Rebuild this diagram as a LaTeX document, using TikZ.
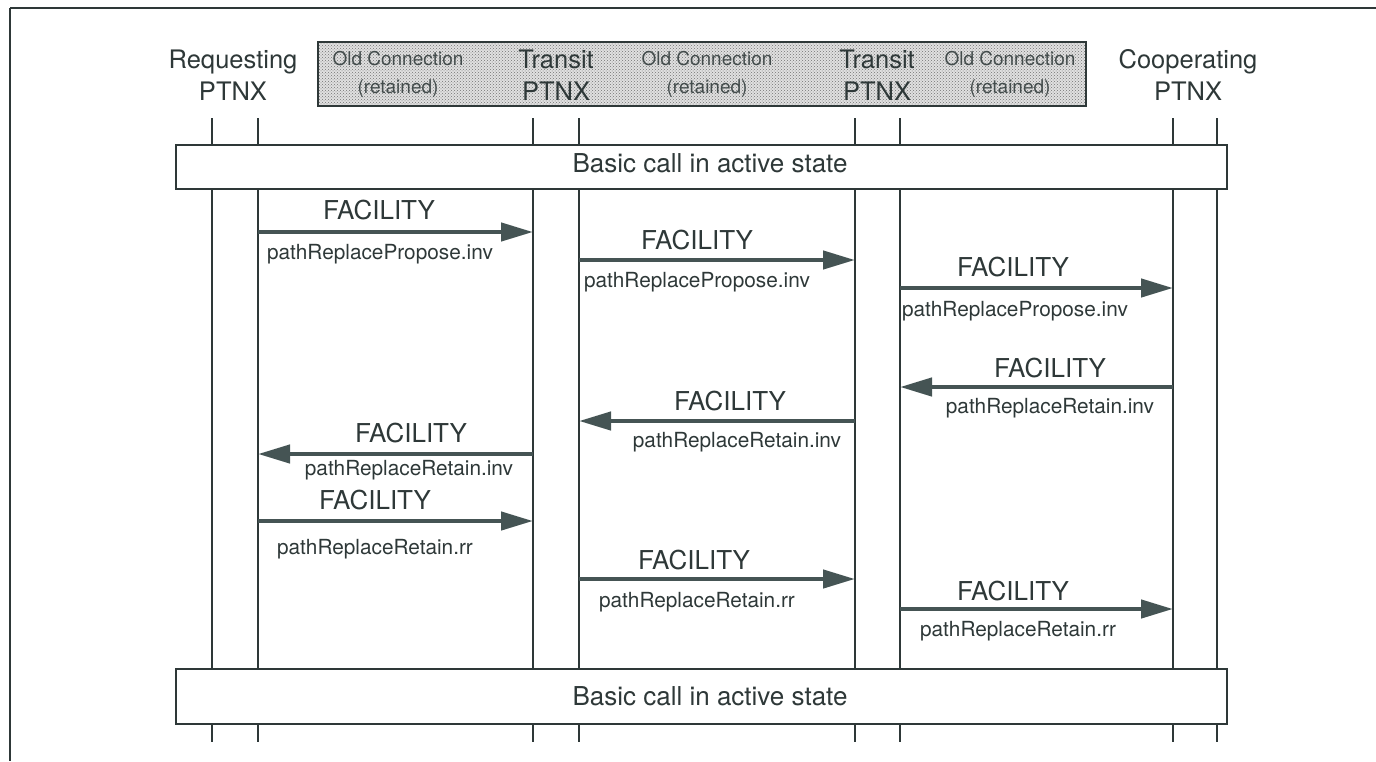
\documentclass[tikz,border=0pt]{standalone}
\usepackage{fontspec}
\setmainfont{TeX Gyre Heros}
\usetikzlibrary{arrows.meta,patterns}
\definecolor{ink}{HTML}{2E3838}
\definecolor{arrowink}{HTML}{455454}
\begin{document}
\begin{tikzpicture}[x=1pt,y=-1pt,
  frame/.style={draw=ink,line width=2.4pt},
  life/.style={draw=ink,line width=1.4pt},
  statebox/.style={draw=ink,line width=1.8pt,fill=white},
  msg/.style={draw=arrowink,line width=4.4pt,-{Triangle[length=32pt,width=18pt]}},
  head/.style={font=\fontsize{25.5}{31.5}\selectfont,text=ink,align=center,inner sep=0pt},
  oldc/.style={font=\fontsize{19}{28}\selectfont,text=ink!90,align=center,inner sep=0pt},
  statetxt/.style={font=\fontsize{26}{30}\selectfont,text=ink,inner sep=0pt},
  fac/.style={font=\fontsize{26}{30}\selectfont,text=ink,inner sep=0pt},
  prim/.style={font=\fontsize{20.8}{24}\selectfont,text=ink,inner sep=0pt}]
\useasboundingbox (0,0) rectangle (1376,761);

% page frame (top and left edges only)
\draw[frame] (10,8) -- (1376,8);
\draw[frame] (10,8) -- (10,761);

% shaded band of retained old connections
\fill[black!12] (318,42) rectangle (1086,106);
\fill[pattern=crosshatch dots,pattern color=black!55] (318,42) rectangle (1086,106);
\draw[ink,line width=1.6pt] (318,42) rectangle (1086,106);

% exchange headings
\node[head] (hreq)  at (233,75) {Requesting\\PTNX};
\node[head] (htr1)  at (556,75) {Transit\\PTNX};
\node[head] (htr2)  at (877,75) {Transit\\PTNX};
\node[head] (hcoop) at (1188,75) {Cooperating\\PTNX};
\node[oldc] (old1) at (398,74) {Old Connection\\(retained)};
\node[oldc] (old2) at (707,74) {Old Connection\\(retained)};
\node[oldc] (old3) at (1010,74) {Old Connection\\(retained)};

% lifelines: ticks above, long segments between the state boxes, ticks below
\foreach \lx in {212,258,533,579,855,900,1173,1217}{
  \draw[life] (\lx,118) -- (\lx,145);
  \draw[life] (\lx,189) -- (\lx,669);
  \draw[life] (\lx,724) -- (\lx,742);
}

% state boxes
\node[statebox,minimum width=1051pt,minimum height=44pt,inner sep=0pt] (top) at (701.5,167) {};
\node[statetxt] (toptxt) at (710,163) {Basic call in active state};
\node[statebox,minimum width=1051pt,minimum height=55pt,inner sep=0pt] (bot) at (701.5,696.5) {};
\node[statetxt] (bottxt) at (710,696) {Basic call in active state};

% message end points on the lifelines
\coordinate (r1) at (258,232);  \coordinate (t1) at (533,232);
\coordinate (r2) at (579,260);  \coordinate (t2) at (855,260);
\coordinate (r3) at (900,288);  \coordinate (t3) at (1173,288);
\coordinate (r4) at (1173,387); \coordinate (t4) at (900,387);
\coordinate (r5) at (855,421);  \coordinate (t5) at (579,421);
\coordinate (r6) at (533,454);  \coordinate (t6) at (258,454);
\coordinate (r7) at (258,521);  \coordinate (t7) at (533,521);
\coordinate (r8) at (579,579);  \coordinate (t8) at (855,579);
\coordinate (r9) at (900,609);  \coordinate (t9) at (1173,609);

% messages
\draw[msg] (r1) -- (t1);
\draw[msg] (r2) -- (t2);
\draw[msg] (r3) -- (t3);
\draw[msg] (r4) -- (t4);
\draw[msg] (r5) -- (t5);
\draw[msg] (r6) -- (t6);
\draw[msg] (r7) -- (t7);
\draw[msg] (r8) -- (t8);
\draw[msg] (r9) -- (t9);

% message names and operations
\node[fac] (f1) at (379,210) {FACILITY};
\node[prim] (p1) at (380,254) {pathReplacePropose.inv};
\node[fac] (f2) at (697,240) {FACILITY};
\node[prim] (p2) at (697,282) {pathReplacePropose.inv};
\node[fac] (f3) at (1013,267) {FACILITY};
\node[prim] (p3) at (1015,311) {pathReplacePropose.inv};
\node[fac] (f4) at (1050,368) {FACILITY};
\node[prim] (p4) at (1050,408) {pathReplaceRetain.inv};
\node[fac] (f5) at (730,401) {FACILITY};
\node[prim] (p5) at (737,442) {pathReplaceRetain.inv};
\node[fac] (f6) at (411,433) {FACILITY};
\node[prim] (p6) at (409,470) {pathReplaceRetain.inv};
\node[fac] (f7) at (375,500) {FACILITY};
\node[prim] (p7) at (375,549) {pathReplaceRetain.rr};
\node[fac] (f8) at (694,560) {FACILITY};
\node[prim] (p8) at (697,602) {pathReplaceRetain.rr};
\node[fac] (f9) at (1013,591) {FACILITY};
\node[prim] (p9) at (1018,631) {pathReplaceRetain.rr};
\end{tikzpicture}
\end{document}
